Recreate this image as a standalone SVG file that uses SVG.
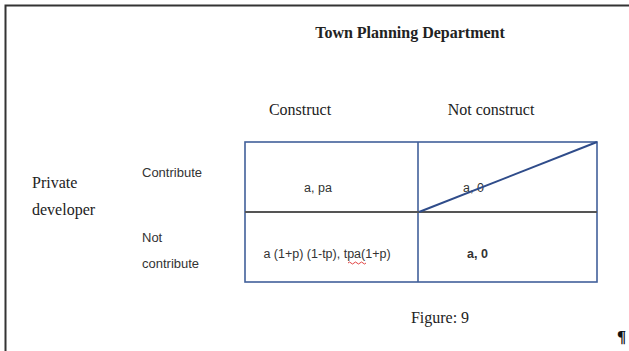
<svg xmlns="http://www.w3.org/2000/svg" width="629" height="351" viewBox="0 0 629 351">
<style>
.serif{font-family:"Liberation Serif","Times New Roman",serif;font-size:16px;fill:#222}
.sans{font-family:"Liberation Sans",Arial,sans-serif;font-size:13px;fill:#333}
.cell{font-family:"Liberation Sans",Arial,sans-serif;font-size:12.5px;fill:#333}
.blue{stroke:#41609a;stroke-width:1.6;fill:none}
</style>
<rect width="629" height="351" fill="#fff"/>
<path d="M5.5,351 V5.5 H629" fill="none" stroke="#333" stroke-width="2"/>
<g id="title"><text class="serif" x="410" y="38" text-anchor="middle" font-weight="bold">Town Planning Department</text></g>
<g id="col-construct"><text class="serif" x="300" y="115" text-anchor="middle">Construct</text></g>
<g id="col-notconstruct"><text class="serif" x="491" y="115" text-anchor="middle">Not construct</text></g>
<g id="row-player"><text class="serif" x="32" y="188">Private</text><text class="serif" x="32" y="215">developer</text></g>
<g id="row-contribute"><text class="sans" x="142" y="177">Contribute</text></g>
<g id="row-notcontribute"><text class="sans" x="142" y="242">Not</text><text class="sans" x="142" y="268">contribute</text></g>
<g id="table">
<rect class="blue" x="245" y="142" width="352" height="140"/>
<line class="blue" x1="418" y1="142" x2="418" y2="282"/>
<line x1="245" y1="212" x2="597" y2="212" stroke="#555" stroke-width="2.2"/>
</g>
<g id="cells">
<text class="cell" x="318" y="192" text-anchor="middle">a, pa</text>
<text class="cell" x="463" y="192">a, 0</text>
<text class="cell" x="327" y="258" text-anchor="middle">a (1+p) (1-tp), tpa(1+p)</text>
<text class="cell" x="467" y="258" font-weight="bold">a, 0</text>
<path d="M348,263 q1.5,-2 3,0 t3,0 t3,0 t3,0 t3,0 t3,0" fill="none" stroke="#e03030" stroke-width="0.9"/>
</g>
<g id="connectors">
<line x1="419" y1="212" x2="597" y2="142" stroke="#2f4c8a" stroke-width="2"/>
</g>
<g id="caption"><text class="serif" x="440" y="323" text-anchor="middle">Figure: 9</text></g>
<text x="617" y="342" font-family="Liberation Serif,serif" font-size="17" font-weight="bold" fill="#111">¶</text>
</svg>
